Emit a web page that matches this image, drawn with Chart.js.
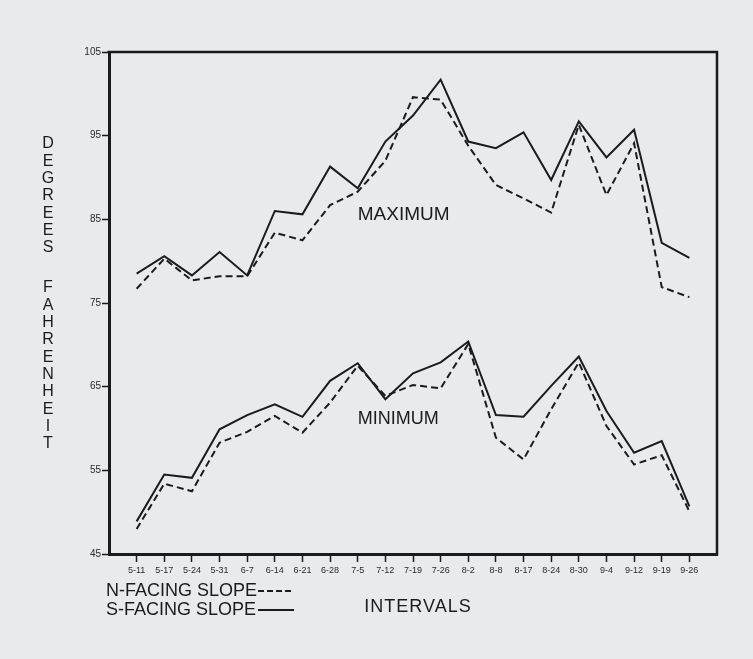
<!DOCTYPE html>
<html>
<head>
<meta charset="utf-8">
<script src="https://cdn.jsdelivr.net/npm/chart.js@4.4.1/dist/chart.umd.min.js"></script>
<style>
  html, body { margin: 0; padding: 0; background: #e9eaec; }
  #wrap { width: 753px; height: 659px; position: relative; }
  canvas { display: block; }
</style>
</head>
<body>
<div id="wrap"><canvas id="c" width="753" height="659"></canvas></div>
<script>
// Weekly intervals (month-day)
const intervals = ['5-11','5-17','5-24','5-31','6-7','6-14','6-21','6-28','7-5','7-12','7-19','7-26','8-2','8-8','8-17','8-24','8-30','9-4','9-12','9-19','9-26'];

// Mean maximum temperatures, degrees F
const maxSouth = [78.5,80.6,78.3,81.1,78.3,86.0,85.6,91.3,88.7,94.3,97.4,101.7,94.3,93.5,95.4,89.7,96.7,92.4,95.7,82.2,80.4];
const maxNorth = [76.7,80.3,77.7,78.2,78.2,83.4,82.5,86.7,88.3,92.0,99.6,99.3,93.8,89.1,87.5,85.8,96.3,87.9,94.1,76.9,75.7];

// Mean minimum temperatures, degrees F
const minSouth = [48.9,54.5,54.1,59.9,61.6,62.9,61.4,65.7,67.8,63.5,66.6,67.9,70.4,61.6,61.4,65.1,68.6,62.1,57.1,58.5,50.7];
const minNorth = [48.0,53.4,52.5,58.3,59.6,61.5,59.5,63.1,67.5,63.9,65.2,64.8,70.1,58.9,56.3,62.3,67.9,60.3,55.7,56.8,50.1];

const yTicks = [45,55,65,75,85,95,105];

const INK = '#1b1b1b';
const FONT = '"Liberation Sans", Arial, sans-serif';

const toPoints = arr => arr.map((v, i) => ({ x: i, y: v }));
const solid = data => ({ data: toPoints(data), borderColor: INK, borderWidth: 2, pointRadius: 0, tension: 0, fill: false });
const dashed = data => ({ data: toPoints(data), borderColor: INK, borderWidth: 2, borderDash: [7, 4], pointRadius: 0, tension: 0, fill: false });

// Frame, series labels, axis titles and key
const decorations = {
  id: 'decorations',
  afterDraw(chart) {
    const { ctx, chartArea: a, scales } = chart;
    ctx.save();
    // top and right edges of the frame
    ctx.strokeStyle = INK;
    ctx.lineWidth = 2.5;
    ctx.beginPath();
    ctx.moveTo(a.left - 1.5, a.top);
    ctx.lineTo(a.right, a.top);
    ctx.lineTo(a.right, a.bottom + 1.5);
    ctx.stroke();

    ctx.fillStyle = INK;
    ctx.textBaseline = 'middle';
    ctx.textAlign = 'left';
    // series labels
    ctx.font = '19px ' + FONT;
    ctx.fillText('MAXIMUM', scales.x.getPixelForValue(8), scales.y.getPixelForValue(85.6));
    ctx.font = '18px ' + FONT;
    ctx.fillText('MINIMUM', scales.x.getPixelForValue(8), scales.y.getPixelForValue(61.1));

    // vertical y-axis title, one letter per line
    ctx.font = '16px ' + FONT;
    ctx.textAlign = 'center';
    const word1 = 'DEGREES', word2 = 'FAHRENHEIT';
    const step = 17.3;
    for (let i = 0; i < word1.length; i++) ctx.fillText(word1[i], 48, 144 + i * step);
    for (let i = 0; i < word2.length; i++) ctx.fillText(word2[i], 48, 288 + i * step);

    // x-axis title
    ctx.font = '18px ' + FONT;
    ctx.letterSpacing = '1px';
    ctx.fillText('INTERVALS', 418, 607);
    ctx.letterSpacing = '0px';

    // key
    ctx.textAlign = 'left';
    ctx.fillText('N-FACING SLOPE', 106, 591);
    ctx.fillText('S-FACING SLOPE', 106, 610);
    const w = ctx.measureText('N-FACING SLOPE').width;
    ctx.lineWidth = 2;
    ctx.setLineDash([6, 3]);
    ctx.beginPath();
    ctx.moveTo(106 + w + 1, 591);
    ctx.lineTo(106 + w + 37, 591);
    ctx.stroke();
    ctx.setLineDash([]);
    ctx.beginPath();
    ctx.moveTo(106 + w + 1, 610);
    ctx.lineTo(106 + w + 37, 610);
    ctx.stroke();

    ctx.restore();
  }
};

new Chart(document.getElementById('c'), {
  type: 'line',
  data: {
    datasets: [solid(maxSouth), dashed(maxNorth), solid(minSouth), dashed(minNorth)]
  },
  options: {
    responsive: false,
    animation: false,
    layout: { padding: { left: 0, top: 52, right: 36, bottom: 0 } },
    plugins: { legend: { display: false }, tooltip: { enabled: false } },
    scales: {
      x: {
        type: 'linear',
        min: -1,
        max: intervals.length,
        afterBuildTicks(scale) { scale.ticks = intervals.map((_, i) => ({ value: i })); },
        afterFit(scale) { scale.height = 105; },
        ticks: {
          autoSkip: false, maxRotation: 0, minRotation: 0, padding: 3,
          color: '#2a2a2a', font: { family: FONT, size: 9 },
          callback: v => intervals[v] ?? ''
        },
        grid: { drawOnChartArea: false, drawTicks: true, tickLength: 8, tickWidth: 1.5, tickColor: INK },
        border: { display: true, color: INK, width: 3 }
      },
      y: {
        type: 'linear',
        min: yTicks[0],
        max: yTicks[yTicks.length - 1],
        afterBuildTicks(scale) { scale.ticks = yTicks.map(v => ({ value: v })); },
        afterFit(scale) { scale.width = 109; },
        ticks: { padding: 1, color: '#2a2a2a', font: { family: FONT, size: 10 } },
        grid: { drawOnChartArea: false, drawTicks: true, tickLength: 7, tickWidth: 1.5, tickColor: INK },
        border: { display: true, color: INK, width: 3 }
      }
    }
  },
  plugins: [decorations]
});
</script>
</body>
</html>
